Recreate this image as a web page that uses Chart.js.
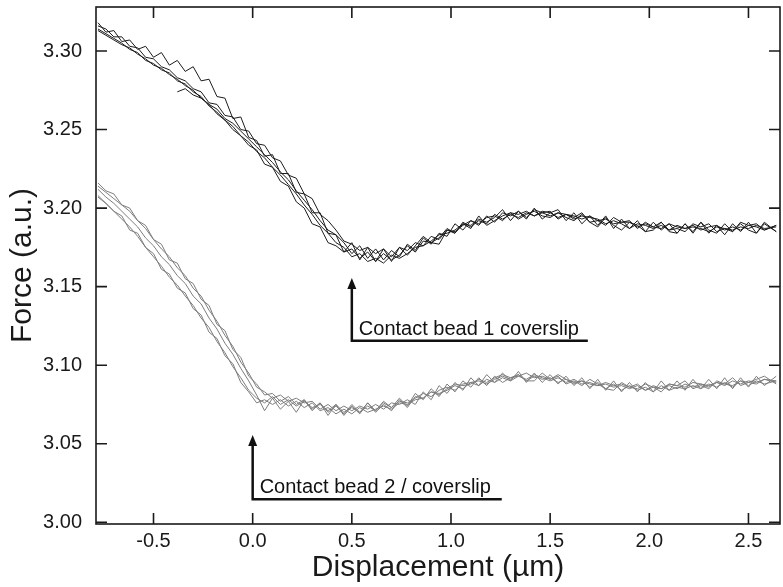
<!DOCTYPE html>
<html>
<head>
<meta charset="utf-8">
<script src="https://cdn.jsdelivr.net/npm/chart.js@4"></script>
<style>
  body { margin: 0; background: #fff; }
  canvas { display: block; }
</style>
</head>
<body>
<canvas id="forceChart" width="783" height="587"></canvas>
<script>
// displacement (µm), shared by every trace
var xs = [
  -0.78, -0.74, -0.70, -0.66, -0.62, -0.58, -0.54, -0.50, -0.46, -0.42,
  -0.38, -0.34, -0.30, -0.26, -0.22, -0.18, -0.14, -0.10, -0.06, -0.02,
  0.02, 0.06, 0.10, 0.14, 0.18, 0.22, 0.26, 0.30, 0.34, 0.38,
  0.42, 0.46, 0.50, 0.54, 0.58, 0.62, 0.66, 0.70, 0.74, 0.78,
  0.82, 0.86, 0.90, 0.94, 0.98, 1.02, 1.06, 1.10, 1.14, 1.18,
  1.22, 1.26, 1.30, 1.34, 1.38, 1.42, 1.46, 1.50, 1.54, 1.58,
  1.62, 1.66, 1.70, 1.74, 1.78, 1.82, 1.86, 1.90, 1.94, 1.98,
  2.02, 2.06, 2.10, 2.14, 2.18, 2.22, 2.26, 2.30, 2.34, 2.38,
  2.42, 2.46, 2.50, 2.54, 2.58, 2.64
];

// bead 1 traces (black)
var bead1a = [
  3.318, 3.312, 3.313, 3.306, 3.307, 3.301, 3.303, 3.296, 3.299, 3.291,
  3.294, 3.287, 3.290, 3.281, 3.282, 3.271, 3.270, 3.257, 3.258, 3.245,
  3.243, 3.233, 3.234, 3.222, 3.222, 3.210, 3.209, 3.197, 3.197, 3.184,
  3.183, 3.178, 3.171, 3.176, 3.168, 3.174, 3.167, 3.173, 3.169, 3.177,
  3.173, 3.181, 3.177, 3.184, 3.182, 3.190, 3.186, 3.192, 3.189, 3.195,
  3.191, 3.197, 3.195, 3.198, 3.194, 3.199, 3.197, 3.198, 3.193, 3.196,
  3.194, 3.197, 3.191, 3.192, 3.189, 3.194, 3.191, 3.192, 3.187, 3.191,
  3.188, 3.191, 3.186, 3.187, 3.185, 3.190, 3.188, 3.190, 3.185, 3.187,
  3.185, 3.191, 3.189, 3.190, 3.186, 3.189
];
var bead1b = [
  3.314, 3.311, 3.308, 3.305, 3.301, 3.299, 3.294, 3.292, 3.288, 3.286,
  3.281, 3.279, 3.274, 3.271, 3.265, 3.261, 3.256, 3.252, 3.246, 3.242,
  3.236, 3.232, 3.226, 3.221, 3.215, 3.209, 3.202, 3.196, 3.189, 3.184,
  3.178, 3.175, 3.169, 3.171, 3.166, 3.168, 3.165, 3.170, 3.168, 3.171,
  3.175, 3.176, 3.179, 3.183, 3.184, 3.186, 3.190, 3.189, 3.193, 3.191,
  3.194, 3.199, 3.192, 3.198, 3.193, 3.200, 3.193, 3.197, 3.199, 3.192,
  3.197, 3.190, 3.195, 3.189, 3.195, 3.187, 3.193, 3.187, 3.192, 3.185,
  3.191, 3.186, 3.190, 3.184, 3.190, 3.185, 3.191, 3.184, 3.189, 3.183,
  3.190, 3.185, 3.191, 3.184, 3.191, 3.185
];
var bead1c = [
  3.316, 3.314, 3.309, 3.309, 3.303, 3.302, 3.296, 3.295, 3.290, 3.288,
  3.283, 3.281, 3.276, 3.274, 3.267, 3.266, 3.259, 3.258, 3.250, 3.249,
  3.241, 3.240, 3.232, 3.230, 3.221, 3.219, 3.209, 3.206, 3.196, 3.192,
  3.186, 3.179, 3.177, 3.173, 3.175, 3.171, 3.174, 3.169, 3.175, 3.173,
  3.178, 3.176, 3.182, 3.180, 3.186, 3.185, 3.189, 3.192, 3.190, 3.194,
  3.195, 3.192, 3.197, 3.196, 3.198, 3.195, 3.198, 3.197, 3.194, 3.196,
  3.195, 3.193, 3.195, 3.192, 3.193, 3.190, 3.191, 3.191, 3.188, 3.190,
  3.188, 3.187, 3.190, 3.188, 3.187, 3.189, 3.186, 3.188, 3.189, 3.186,
  3.188, 3.186, 3.189, 3.188, 3.186, 3.189
];
var bead1d = [
  3.313, 3.310, 3.307, 3.304, 3.302, 3.298, 3.295, 3.291, 3.289, 3.285,
  3.282, 3.278, 3.275, 3.270, 3.266, 3.260, 3.256, 3.250, 3.246, 3.240,
  3.237, 3.228, 3.226, 3.217, 3.214, 3.204, 3.200, 3.190, 3.188, 3.178,
  3.176, 3.172, 3.174, 3.168, 3.172, 3.166, 3.171, 3.167, 3.170, 3.176,
  3.172, 3.179, 3.178, 3.181, 3.187, 3.184, 3.191, 3.188, 3.192, 3.190,
  3.196, 3.193, 3.196, 3.194, 3.197, 3.195, 3.197, 3.195, 3.197, 3.194,
  3.192, 3.196, 3.191, 3.188, 3.194, 3.189, 3.186, 3.191, 3.189, 3.185,
  3.186, 3.191, 3.185, 3.184, 3.190, 3.184, 3.191, 3.186, 3.184, 3.190,
  3.185, 3.190, 3.186, 3.184, 3.190, 3.185
];
var bead1e = [
  null, null, null, null, null, null, null, null, null, null,
  3.274, 3.276, 3.272, 3.270, 3.266, 3.263, 3.257, 3.254, 3.249, 3.244,
  3.239, 3.234, 3.229, 3.223, 3.218, 3.211, 3.205, 3.199, 3.192, 3.186,
  3.183, 3.172, 3.178, 3.167, 3.175, 3.166, 3.174, 3.166, 3.175, 3.170,
  3.176, 3.182, 3.178, 3.177, 3.186, 3.184, 3.190, 3.187, 3.195, 3.189,
  3.192, 3.195, 3.197, 3.193, 3.196, 3.198, 3.195, 3.194, 3.197, 3.196,
  3.193, 3.195, 3.194, 3.193, 3.190, 3.192, 3.190, 3.187, 3.190, 3.189,
  3.187, 3.189, 3.186, 3.189, 3.187, 3.188, 3.187, 3.185, 3.188, 3.187,
  3.186, 3.188, 3.187, 3.189, 3.187, 3.188
];

// bead 2 traces (grey)
var bead2a = [
  3.216, 3.211, 3.209, 3.202, 3.200, 3.192, 3.189, 3.180, 3.177, 3.167,
  3.165, 3.155, 3.152, 3.142, 3.138, 3.126, 3.122, 3.110, 3.105, 3.093,
  3.088, 3.081, 3.082, 3.077, 3.080, 3.075, 3.078, 3.072, 3.076, 3.070,
  3.074, 3.069, 3.075, 3.070, 3.076, 3.071, 3.077, 3.073, 3.079, 3.074,
  3.082, 3.078, 3.085, 3.080, 3.088, 3.083, 3.090, 3.086, 3.092, 3.087,
  3.093, 3.089, 3.092, 3.094, 3.090, 3.090, 3.095, 3.091, 3.093, 3.088,
  3.090, 3.087, 3.091, 3.088, 3.085, 3.084, 3.089, 3.086, 3.088, 3.084,
  3.086, 3.083, 3.088, 3.087, 3.090, 3.085, 3.087, 3.085, 3.090, 3.088,
  3.092, 3.087, 3.089, 3.091, 3.093, 3.088
];
var bead2b = [
  3.214, 3.210, 3.206, 3.202, 3.198, 3.192, 3.187, 3.180, 3.174, 3.169,
  3.162, 3.157, 3.149, 3.144, 3.135, 3.128, 3.119, 3.112, 3.102, 3.095,
  3.086, 3.083, 3.079, 3.081, 3.077, 3.079, 3.076, 3.077, 3.072, 3.075,
  3.071, 3.074, 3.071, 3.074, 3.072, 3.075, 3.072, 3.076, 3.075, 3.078,
  3.075, 3.083, 3.078, 3.087, 3.082, 3.089, 3.084, 3.092, 3.087, 3.094,
  3.089, 3.095, 3.090, 3.096, 3.089, 3.095, 3.089, 3.094, 3.088, 3.093,
  3.087, 3.092, 3.085, 3.091, 3.084, 3.090, 3.083, 3.089, 3.083, 3.089,
  3.083, 3.090, 3.084, 3.090, 3.084, 3.091, 3.085, 3.091, 3.085, 3.092,
  3.085, 3.092, 3.086, 3.093, 3.087, 3.093
];
var bead2c = [
  3.208, 3.203, 3.198, 3.193, 3.188, 3.182, 3.175, 3.169, 3.163, 3.156,
  3.151, 3.144, 3.138, 3.130, 3.124, 3.115, 3.108, 3.099, 3.092, 3.084,
  3.079, 3.076, 3.080, 3.075, 3.078, 3.074, 3.077, 3.073, 3.075, 3.071,
  3.075, 3.070, 3.073, 3.070, 3.074, 3.071, 3.076, 3.073, 3.077, 3.076,
  3.079, 3.082, 3.080, 3.084, 3.086, 3.084, 3.088, 3.089, 3.087, 3.091,
  3.089, 3.092, 3.090, 3.093, 3.091, 3.094, 3.092, 3.090, 3.092, 3.089,
  3.091, 3.088, 3.089, 3.087, 3.088, 3.086, 3.087, 3.085, 3.087, 3.084,
  3.087, 3.085, 3.087, 3.085, 3.088, 3.086, 3.088, 3.087, 3.089, 3.087,
  3.090, 3.088, 3.090, 3.089, 3.091, 3.089
];
var bead2d = [
  3.207, 3.203, 3.198, 3.195, 3.186, 3.184, 3.175, 3.171, 3.161, 3.158,
  3.149, 3.146, 3.136, 3.132, 3.121, 3.117, 3.106, 3.101, 3.089, 3.083,
  3.076, 3.078, 3.075, 3.078, 3.074, 3.077, 3.073, 3.076, 3.071, 3.073,
  3.069, 3.072, 3.069, 3.073, 3.070, 3.072, 3.074, 3.072, 3.076, 3.075,
  3.078, 3.079, 3.083, 3.082, 3.084, 3.087, 3.085, 3.089, 3.090, 3.088,
  3.091, 3.093, 3.091, 3.094, 3.090, 3.093, 3.091, 3.092, 3.089, 3.091,
  3.088, 3.090, 3.086, 3.089, 3.085, 3.088, 3.084, 3.087, 3.084, 3.086,
  3.083, 3.087, 3.084, 3.086, 3.085, 3.087, 3.085, 3.088, 3.086, 3.089,
  3.086, 3.090, 3.087, 3.090, 3.088, 3.090
];
var bead2e = [
  3.212, 3.207, 3.203, 3.198, 3.193, 3.188, 3.181, 3.176, 3.169, 3.164,
  3.157, 3.152, 3.144, 3.139, 3.130, 3.123, 3.114, 3.107, 3.098, 3.090,
  3.081, 3.071, 3.079, 3.072, 3.077, 3.070, 3.078, 3.071, 3.076, 3.068,
  3.075, 3.068, 3.074, 3.069, 3.076, 3.070, 3.075, 3.071, 3.078, 3.073,
  3.080, 3.079, 3.083, 3.081, 3.085, 3.088, 3.087, 3.088, 3.091, 3.089,
  3.092, 3.094, 3.092, 3.093, 3.095, 3.092, 3.093, 3.091, 3.094, 3.091,
  3.089, 3.090, 3.088, 3.087, 3.089, 3.087, 3.088, 3.086, 3.085, 3.088,
  3.086, 3.085, 3.088, 3.087, 3.086, 3.089, 3.088, 3.086, 3.089, 3.088,
  3.087, 3.090, 3.089, 3.088, 3.091, 3.090
];

var xTicks = [-0.5, 0.0, 0.5, 1.0, 1.5, 2.0, 2.5];
var yTicks = [3.00, 3.05, 3.10, 3.15, 3.20, 3.25, 3.30];

// arrow + label callouts, in data units
var notes = [
  { text: 'Contact bead 1 coverslip', x: 0.5, tipY: 3.1555, baseY: 3.1155, endX: 1.69 },
  { text: 'Contact bead 2 / coverslip', x: 0.0, tipY: 3.0555, baseY: 3.0147, endX: 1.256 }
];

var FONT = "'Liberation Sans', Arial, Helvetica, sans-serif";

function trace(ys, color) {
  return {
    data: xs.map(function(x, i) { return { x: x, y: ys[i] }; }),
    borderColor: color,
    borderWidth: 1,
    pointRadius: 0,
    tension: 0,
    fill: false
  };
}

var datasets = [bead2a, bead2b, bead2c, bead2d, bead2e].map(function(s) { return trace(s, '#7d7d7d'); })
  .concat([bead1a, bead1b, bead1c, bead1d, bead1e].map(function(s) { return trace(s, '#1c1c1c'); }));

var framePlugin = {
  id: 'frame',
  afterDatasetsDraw: function(chart) {
    var ctx = chart.ctx, a = chart.chartArea;
    var x = chart.scales.x, y = chart.scales.y;
    ctx.save();
    ctx.strokeStyle = '#1a1a1a';
    ctx.lineWidth = 1.6;
    ctx.strokeRect(a.left, a.top, a.right - a.left, a.bottom - a.top);

    // inward ticks on all four sides
    ctx.beginPath();
    xTicks.forEach(function(v) {
      var px = x.getPixelForValue(v);
      ctx.moveTo(px, a.bottom); ctx.lineTo(px, a.bottom - 11);
      ctx.moveTo(px, a.top); ctx.lineTo(px, a.top + 11);
    });
    yTicks.forEach(function(v) {
      var py = y.getPixelForValue(v);
      ctx.moveTo(a.left, py); ctx.lineTo(a.left + 11, py);
      ctx.moveTo(a.right, py); ctx.lineTo(a.right - 11, py);
    });
    ctx.stroke();

    // callouts
    notes.forEach(function(n) {
      var px = x.getPixelForValue(n.x);
      var tip = y.getPixelForValue(n.tipY);
      var base = y.getPixelForValue(n.baseY);
      var end = x.getPixelForValue(n.endX);
      ctx.strokeStyle = '#111';
      ctx.fillStyle = '#111';
      ctx.lineWidth = 2.5;
      ctx.beginPath();
      ctx.moveTo(px, base); ctx.lineTo(px, tip + 8);
      ctx.moveTo(px - 1.2, base); ctx.lineTo(end, base);
      ctx.stroke();
      ctx.beginPath();
      ctx.moveTo(px, tip); ctx.lineTo(px - 4.5, tip + 11); ctx.lineTo(px + 4.5, tip + 11);
      ctx.closePath();
      ctx.fill();
      ctx.font = '20px ' + FONT;
      ctx.textAlign = 'left';
      ctx.textBaseline = 'alphabetic';
      ctx.fillText(n.text, px + 7, base - 6);
    });
    ctx.restore();
  }
};

var ctx = document.getElementById('forceChart').getContext('2d');
var myChart = new Chart(ctx, {
  type: 'line',
  data: { datasets: datasets },
  options: {
    responsive: false,
    animation: false,
    devicePixelRatio: 1,
    layout: { padding: { top: 7, right: 3, left: 0, bottom: 0 } },
    plugins: { legend: { display: false }, tooltip: { enabled: false } },
    scales: {
      x: {
        type: 'linear',
        min: -0.79,
        max: 2.659,
        grid: { display: false, drawTicks: false },
        border: { display: false },
        ticks: {
          stepSize: 0.5,
          includeBounds: false,
          padding: 5,
          color: '#1a1a1a',
          font: { size: 20, family: FONT },
          callback: function(v) { return v.toFixed(1); }
        },
        title: {
          display: true,
          text: 'Displacement (µm)',
          color: '#1a1a1a',
          font: { size: 30, family: FONT },
          padding: { top: 0, bottom: 1 }
        },
        afterFit: function(s) { s.height = 63; s.paddingLeft = 0; s.paddingRight = 0; }
      },
      y: {
        min: 2.9989,
        max: 3.328,
        grid: { display: false, drawTicks: false },
        border: { display: false },
        ticks: {
          stepSize: 0.05,
          includeBounds: false,
          padding: 14,
          color: '#1a1a1a',
          font: { size: 20, family: FONT },
          callback: function(v) { return v.toFixed(2); }
        },
        title: {
          display: true,
          text: 'Force (a.u.)',
          color: '#1a1a1a',
          font: { size: 30, family: FONT },
          padding: { top: 5, bottom: 0 }
        },
        afterFit: function(s) { s.width = 96; s.paddingTop = 0; s.paddingBottom = 0; }
      }
    }
  },
  plugins: [framePlugin]
});
</script>
</body>
</html>
